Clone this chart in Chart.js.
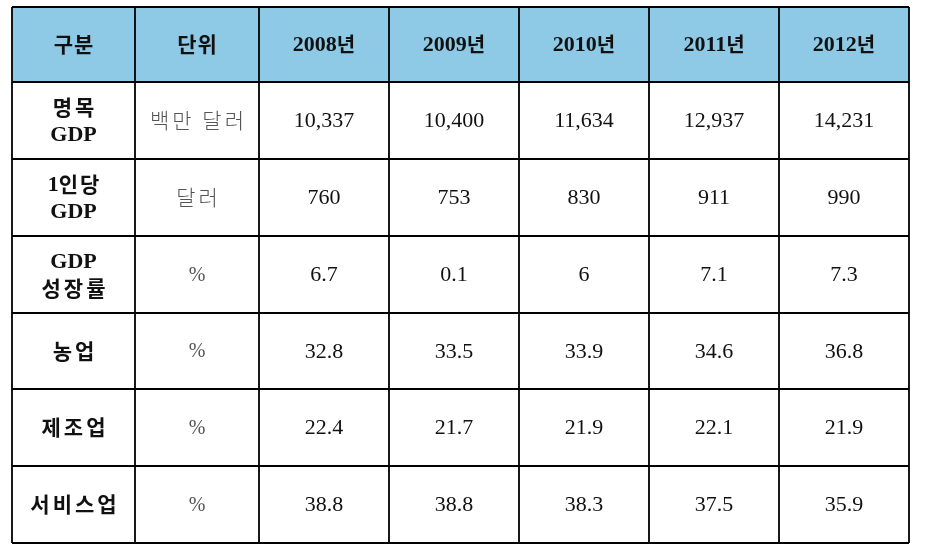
<!DOCTYPE html>
<html>
<head>
<meta charset="utf-8">
<script src="https://cdn.jsdelivr.net/npm/chart.js@4.4.1/dist/chart.umd.min.js"></script>
<style>
html,body{margin:0;padding:0;background:#fff;}
#wrap{width:928px;height:558px;position:relative;}
</style>
</head>
<body>
<div id="wrap"><canvas id="c" width="928" height="558"></canvas></div>
<script>
// ---- data ----
const headerLabels = ['구분', '단위'];
const years = ['2008년', '2009년', '2010년', '2011년', '2012년'];
const rowLabels = [['명목', 'GDP'], ['1인당', 'GDP'], ['GDP', '성장률'], ['농업'], ['제조업'], ['서비스업']];
const units = ['백만 달러', '달러', '%', '%', '%', '%'];
const nominalGDP = [10337, 10400, 11634, 12937, 14231];
const perCapitaGDP = [760, 753, 830, 911, 990];
const gdpGrowth = [6.7, 0.1, 6, 7.1, 7.3];
const agriculture = [32.8, 33.5, 33.9, 34.6, 36.8];
const manufacturing = [22.4, 21.7, 21.9, 22.1, 21.9];
const services = [38.8, 38.8, 38.3, 37.5, 35.9];

// ---- layout (not data) ----
const colEdges = [0, 123, 247, 377, 507, 637, 767, 897]; // x-scale units
const rowEdges = [0, 75, 152, 229, 306, 382, 459, 536];  // y-scale units
const colCenter = i => (colEdges[i] + colEdges[i + 1]) / 2;
const rowCenter = i => (rowEdges[i] + rowEdges[i + 1]) / 2;

const series = [nominalGDP, perCapitaGDP, gdpGrowth, agriculture, manufacturing, services];
const fmt = (v, r) => r === 0 ? v.toLocaleString('en-US') : String(v);

const datasets = series.map((vals, r) => ({
  label: rowLabels[r].join(' '),
  data: vals.map((v, i) => ({ x: colCenter(i + 2), y: rowCenter(r + 1), v: fmt(v, r) })),
  pointRadius: 0,
  pointHoverRadius: 0
}));

const SERIF = '"Liberation Serif", "DejaVu Serif", serif';
const KR = '"Noto Sans CJK KR", "Noto Sans", sans-serif';

function spaced(ctx, text, cx, cy, sp) {
  ctx.letterSpacing = sp + 'px';
  ctx.fillText(text, cx + sp / 2, cy);
  ctx.letterSpacing = '0px';
}

const tablePlugin = {
  id: 'tablePlugin',
  beforeDatasetsDraw(chart) {
    const { ctx, scales: { x, y } } = chart;
    ctx.save();
    // header fill
    ctx.fillStyle = '#8ECAE6';
    ctx.fillRect(x.getPixelForValue(colEdges[0]), y.getPixelForValue(rowEdges[0]),
      x.getPixelForValue(colEdges[colEdges.length - 1]) - x.getPixelForValue(colEdges[0]),
      y.getPixelForValue(rowEdges[1]) - y.getPixelForValue(rowEdges[0]));
    // grid
    ctx.strokeStyle = '#000';
    ctx.lineWidth = 1.8;
    const x0 = x.getPixelForValue(colEdges[0]), x1 = x.getPixelForValue(colEdges[colEdges.length - 1]);
    const y0 = y.getPixelForValue(rowEdges[0]), y1 = y.getPixelForValue(rowEdges[rowEdges.length - 1]);
    ctx.beginPath();
    colEdges.forEach(c => { const px = x.getPixelForValue(c); ctx.moveTo(px, y0); ctx.lineTo(px, y1); });
    rowEdges.forEach(r => { const py = y.getPixelForValue(r); ctx.moveTo(x0, py); ctx.lineTo(x1, py); });
    ctx.stroke();

    ctx.textAlign = 'center';
    ctx.textBaseline = 'middle';
    // header texts
    ctx.fillStyle = '#111';
    headerLabels.forEach((t, i) => {
      ctx.font = 'bold 21px ' + KR;
      spaced(ctx, t, x.getPixelForValue(colCenter(i)), y.getPixelForValue(rowCenter(0)), 1);
    });
    years.forEach((t, i) => {
      const num = t.replace('년', '');
      ctx.font = 'bold 22px ' + SERIF;
      const w1 = ctx.measureText(num).width;
      ctx.font = 'bold 20px ' + KR;
      const w2 = ctx.measureText('년').width;
      const cx = x.getPixelForValue(colCenter(i + 2));
      const cy = y.getPixelForValue(rowCenter(0));
      const left = cx - (w1 + w2) / 2;
      ctx.textAlign = 'left';
      ctx.font = 'bold 22px ' + SERIF;
      ctx.fillText(num, left, cy + 1);
      ctx.font = 'bold 20px ' + KR;
      ctx.fillText('년', left + w1, cy);
      ctx.textAlign = 'center';
    });
    // row labels and units
    rowLabels.forEach((lines, r) => {
      const cx = x.getPixelForValue(colCenter(0));
      const cy = y.getPixelForValue(rowCenter(r + 1));
      const n = lines.length;
      lines.forEach((t, k) => {
        const yy = cy + (k - (n - 1) / 2) * 27;
        const isLatin = /^[A-Z0-9]+$/.test(t);
        ctx.fillStyle = '#111';
        if (/^1/.test(t)) {
          ctx.font = 'bold 22px ' + SERIF;
          const w1 = ctx.measureText('1').width;
          ctx.font = 'bold 21px ' + KR;
          ctx.letterSpacing = '2px';
          const rest = t.slice(1);
          const w2 = ctx.measureText(rest).width - 2;
          ctx.letterSpacing = '0px';
          const left = cx - (w1 + w2) / 2;
          ctx.textAlign = 'left';
          ctx.font = 'bold 22px ' + SERIF;
          ctx.fillText('1', left, yy + 1);
          ctx.font = 'bold 21px ' + KR;
          ctx.letterSpacing = '2px';
          ctx.fillText(rest, left + w1, yy);
          ctx.letterSpacing = '0px';
          ctx.textAlign = 'center';
        } else if (isLatin) {
          ctx.font = 'bold 22px ' + SERIF;
          ctx.fillText(t, cx, yy + 1);
        } else {
          ctx.font = 'bold 21px ' + KR;
          spaced(ctx, t, cx, yy, 3);
        }
      });
      ctx.fillStyle = '#555';
      if (units[r] === '%') {
        ctx.font = '20px ' + SERIF;
        ctx.fillText(units[r], x.getPixelForValue(colCenter(1)), cy + 1);
      } else {
        ctx.font = '300 21px ' + KR;
        spaced(ctx, units[r], x.getPixelForValue(colCenter(1)), cy, 3);
      }
    });
    ctx.restore();
  },
  afterDatasetsDraw(chart) {
    const { ctx } = chart;
    ctx.save();
    ctx.textAlign = 'center';
    ctx.textBaseline = 'middle';
    ctx.fillStyle = '#111';
    ctx.font = '22px ' + SERIF;
    chart.data.datasets.forEach((ds, di) => {
      const meta = chart.getDatasetMeta(di);
      meta.data.forEach((pt, i) => {
        ctx.fillText(ds.data[i].v, pt.x, pt.y + 1);
      });
    });
    ctx.restore();
  }
};

new Chart(document.getElementById('c'), {
  type: 'scatter',
  data: { datasets },
  options: {
    responsive: false,
    animation: false,
    layout: { padding: { left: 12, right: 19, top: 7, bottom: 15 } },
    plugins: { legend: { display: false }, tooltip: { enabled: false } },
    scales: {
      x: { type: 'linear', min: colEdges[0], max: colEdges[colEdges.length - 1], display: false },
      y: { type: 'linear', min: rowEdges[0], max: rowEdges[rowEdges.length - 1], reverse: true, display: false }
    }
  },
  plugins: [tablePlugin]
});
</script>
</body>
</html>
